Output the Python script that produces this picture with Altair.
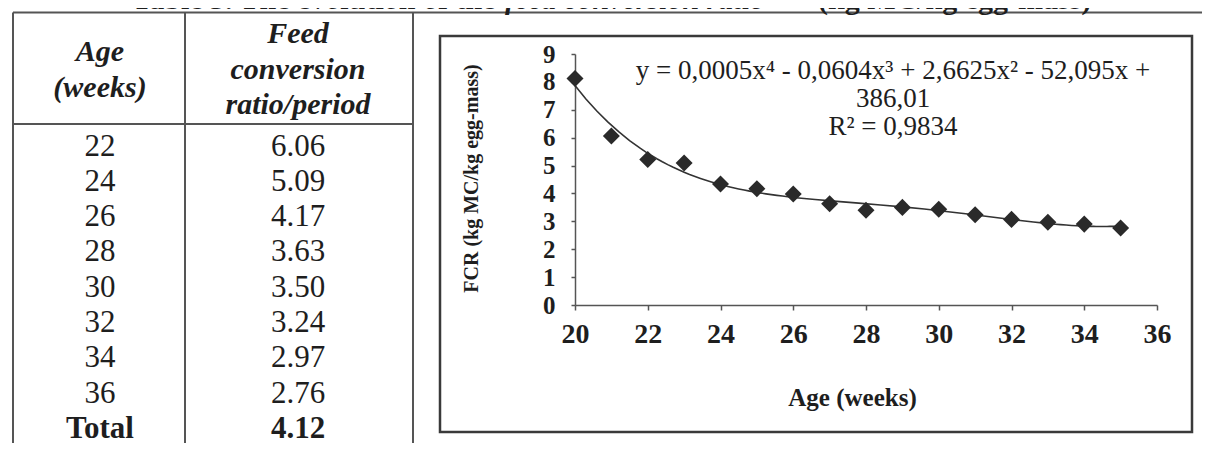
import altair as alt
import pandas as pd

# ---------------- data ----------------
weeks = [20, 21, 22, 23, 24, 25, 26, 27, 28, 29, 30, 31, 32, 33, 34, 35]
fcr_values = [8.12, 6.06, 5.22, 5.09, 4.34, 4.17, 3.98, 3.63, 3.40, 3.50,
              3.43, 3.24, 3.07, 2.97, 2.90, 2.76]

table_age = ["22", "24", "26", "28", "30", "32", "34", "36"]
table_fcr = ["6.06", "5.09", "4.17", "3.63", "3.50", "3.24", "2.97", "2.76"]
total_row = ["Total", "4.12"]
header_age = "Age\n(weeks)"
header_fcr = "Feed\nconversion\nratio/period"

title_parts = ["Table 3. The evolution of the ", "feed conversion ratio",
               "(kg MC/kg egg-mass)"]
equation_text = "y = 0,0005x\u2074 - 0,0604x\u00b3 + 2,6625x\u00b2 - 52,095x +\n386,01\nR\u00b2 = 0,9834"

x_ticks = [20, 22, 24, 26, 28, 30, 32, 34, 36]
y_ticks = [0, 1, 2, 3, 4, 5, 6, 7, 8, 9]
x_title = "Age (weeks)"
y_title = "FCR (kg MC/kg egg-mass)"

# ---------------- layout / style ----------------
W, H = 1194, 435
SERIF = "Liberation Serif"
INK = "#1e1e1e"
LINE = "#555555"

scatter_df = pd.DataFrame({"age": weeks, "FCR": fcr_values})
table_df = pd.DataFrame({"row": table_age, "age": table_age, "fcr": table_fcr})
total_df = pd.DataFrame({"row": [total_row[0]], "age": [total_row[0]], "fcr": [total_row[1]]})

xs = alt.Scale(domain=[20, 36], range=[567, 1149], nice=False, zero=False)
ys = alt.Scale(domain=[0, 9], range=[297, 46], nice=False, zero=False)

x_axis = alt.Axis(values=x_ticks, orient="bottom", offset=-(H - 297), grid=False,
                  tickSize=5, tickColor=LINE, domainColor=LINE, domainWidth=1.5,
                  tickWidth=1.5, labelFont=SERIF, labelFontWeight="bold",
                  labelFontSize=28, labelColor=INK, labelPadding=10,
                  labelFlush=False, labelOverlap=False,
                  title=x_title, titleFont=SERIF, titleFontWeight="bold",
                  titleFontSize=25, titleColor=INK, titleX=844, titleY=92,
                  titleAlign="center", titleBaseline="middle")
y_axis = alt.Axis(values=y_ticks, orient="left", offset=-567, grid=False,
                  tickSize=4, tickColor=LINE, domainColor=LINE, domainWidth=1.5,
                  tickWidth=1.5, labelFont=SERIF, labelFontWeight="bold",
                  labelFontSize=25, labelColor=INK, labelPadding=16,
                  labelFlush=False, labelOverlap=False,
                  title=y_title, titleFont=SERIF, titleFontWeight="bold",
                  titleFontSize=20, titleColor=INK, titleX=-104, titleY=170,
                  titleAngle=270, titleAlign="center", titleBaseline="middle")

points = alt.Chart(scatter_df).mark_point(
    shape="diamond", filled=True, size=290, color="#2a2a2a", opacity=1
).encode(
    x=alt.X("age:Q", scale=xs, axis=x_axis),
    y=alt.Y("FCR:Q", scale=ys, axis=y_axis),
)

trend = alt.Chart(scatter_df).transform_regression(
    "age", "FCR", method="poly", order=4
).mark_line(color="#333333", strokeWidth=1.6).encode(
    x=alt.X("age:Q", scale=xs, axis=None),
    y=alt.Y("FCR:Q", scale=ys, axis=None),
)

one = alt.Data(values=[{"k": 1}])

equation = alt.Chart(alt.Data(values=[{"t": equation_text}])).mark_text(
    font=SERIF, fontSize=27, color=INK, align="center", baseline="alphabetic",
    lineBreak="\n", lineHeight=28
).encode(x=alt.value(885), y=alt.value(71), text="t:N")

frame = alt.Chart(one).mark_rect(
    fill="white", fillOpacity=0, stroke="#3a3a3a", strokeWidth=2.5
).encode(x=alt.value(432), x2=alt.value(1184), y=alt.value(28), y2=alt.value(424))

# table
row_scale = alt.Scale(type="point", domain=table_age + [total_row[0]],
                      range=[138.5, 421], padding=0)
col_scale = alt.Scale(type="point", domain=["age", "fcr"], range=[92, 290], padding=0)

cells = alt.Chart(table_df).transform_fold(
    ["age", "fcr"], as_=["col", "val"]
).mark_text(font=SERIF, fontSize=31, color=INK, baseline="middle").encode(
    x=alt.X("col:N", scale=col_scale, axis=None),
    y=alt.Y("row:N", scale=row_scale, axis=None),
    text="val:N",
)
total = alt.Chart(total_df).transform_fold(
    ["age", "fcr"], as_=["col", "val"]
).mark_text(font=SERIF, fontSize=31, fontWeight="bold", color=INK,
            baseline="middle").encode(
    x=alt.X("col:N", scale=col_scale, axis=None),
    y=alt.Y("row:N", scale=row_scale, axis=None),
    text="val:N",
)

head_age = alt.Chart(alt.Data(values=[{"col": "age", "t": header_age}])).mark_text(
    font=SERIF, fontSize=30, fontWeight="bold", fontStyle="italic", color=INK,
    baseline="alphabetic", lineBreak="\n", lineHeight=35.5
).encode(x=alt.X("col:N", scale=col_scale, axis=None), y=alt.value(53), text="t:N")
head_fcr = alt.Chart(alt.Data(values=[{"col": "fcr", "t": header_fcr}])).mark_text(
    font=SERIF, fontSize=30, fontWeight="bold", fontStyle="italic", color=INK,
    baseline="alphabetic", lineBreak="\n", lineHeight=35.5
).encode(x=alt.X("col:N", scale=col_scale, axis=None), y=alt.value(35), text="t:N")

def rule(x1, x2, y1, y2):
    return alt.Chart(one).mark_rule(color=LINE, strokeWidth=2).encode(
        x=alt.value(x1), x2=alt.value(x2), y=alt.value(y1), y2=alt.value(y2))

lines = [
    rule(5, W + 8, 4.5, 4.5),   # top line of the table
    rule(5, 5, 4.5, H),         # left border
    rule(177, 177, 4.5, H),     # column divider
    rule(405, 405, 4.5, H),     # right of the table columns
    rule(5, 405, 116, 116),     # header separator
]

def title_piece(txt, x, italic):
    return alt.Chart(alt.Data(values=[{"t": txt}])).mark_text(
        font=SERIF, fontSize=30, fontWeight="bold",
        fontStyle="italic" if italic else "normal", color=INK,
        align="left", baseline="alphabetic"
    ).encode(x=alt.value(x), y=alt.value(1), text="t:N")

titles = [
    title_piece(title_parts[0], 124, False),
    title_piece(title_parts[1], 497, True),
    title_piece(title_parts[2], 810, False),
]

chart = alt.layer(
    *lines, frame, *titles, head_age, head_fcr, cells, total,
    trend, points, equation
).resolve_scale(
    x="independent", y="independent"
).properties(
    width=W, height=H, autosize=alt.AutoSizeParams(type="none"), padding=0,
    background="white"
).configure_view(stroke=None)

chart.save("out.html", embed_options={"renderer": "svg", "actions": False})
